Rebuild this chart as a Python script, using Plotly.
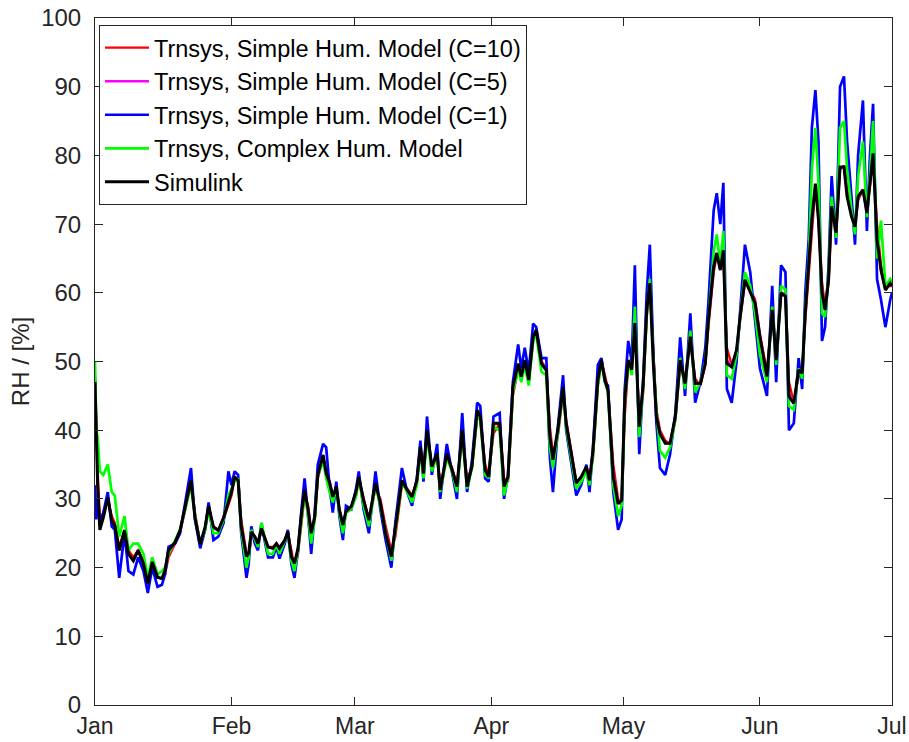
import pandas as pd
import plotly.graph_objects as go

# time in days since 1 Jan
days = [0.0, 0.3, 0.6, 1.1, 1.9, 2.9, 3.8, 4.5, 5.5, 6.7, 7.6, 8.7, 9.8, 11.0, 12.0, 13.0, 14.2, 15.2, 15.9, 16.7,
        18.2, 19.3, 20.5, 21.8, 22.7, 23.9, 25.0, 25.8, 26.9, 28.0, 29.2, 30.3, 31.0, 31.7, 32.5, 33.2, 34.4, 34.9, 35.5, 36.3,
        37.0, 37.8, 38.5, 39.3, 40.4, 41.2, 41.9, 43.1, 43.8, 44.6, 45.3, 46.1, 46.9, 47.6, 48.4, 49.1, 49.9, 50.6, 51.8, 52.5,
        53.3, 54.0, 54.8, 55.5, 56.3, 57.0, 58.2, 59.3, 59.9, 61.0, 62.2, 63.7, 64.8, 66.0, 67.3, 68.2, 69.7, 70.9, 72.0, 73.1,
        73.9, 74.6, 75.4, 76.5, 77.7, 78.4, 79.9, 81.1, 82.2, 83.4, 84.5, 85.6, 86.8, 87.5, 88.6, 89.4, 90.5, 91.9, 92.9, 93.8,
        94.9, 96.1, 96.8, 97.6, 98.5, 99.5, 100.2, 101.4, 102.5, 103.3, 104.0, 105.2, 106.3, 107.0, 108.2, 109.3, 110.4, 111.6, 112.3, 113.1,
        114.2, 115.0, 115.8, 116.5, 117.7, 118.8, 119.6, 120.3, 121.1, 121.9, 122.6, 123.6, 124.5, 125.3, 126.0, 126.8, 127.5, 128.3, 129.5, 130.6,
        131.8, 132.9, 134.0, 135.2, 136.3, 137.5, 138.6, 139.3, 140.5, 141.2, 142.0, 142.7, 143.5, 144.6, 145.7, 146.5, 147.6, 148.8, 149.9, 151.0,
        152.6, 153.8, 154.7, 155.8, 156.8, 157.6, 158.7, 159.8, 160.6, 161.3, 162.1, 162.8, 163.6, 164.3, 165.1, 165.8, 166.6, 167.3, 168.3, 169.2,
        170.1, 170.8, 171.8, 172.6, 173.3, 174.4, 175.3, 176.0, 176.7, 177.6, 178.5, 179.5, 180.6, 181.0]

simulink = [47, 38, 32, 25.5, 27.3, 30.2, 26.9, 26.1, 22.5, 25.4, 22.0, 21.0, 22.5, 20.6, 17.7, 20.8, 18.6, 18.4, 19.6, 22.5,
            23.7, 25.4, 28.8, 32.7, 27.3, 23.4, 25.9, 29.0, 25.9, 25.4, 27.3, 29.5, 31.0, 33.2, 32.7, 26.0, 21.6, 22.1, 25.2, 24.5,
            23.5, 25.7, 24.5, 23.0, 22.8, 23.5, 22.8, 24.0, 25.2, 21.6, 20.6, 22.8, 27.9, 31.3, 28.4, 25.0, 27.4, 33.5, 36.4, 33.7,
            32.3, 30.3, 31.8, 28.4, 26.2, 28.2, 28.9, 31.1, 33.2, 29.8, 26.9, 32.3, 29.4, 25.0, 21.6, 26.0, 32.7, 31.3, 30.3, 32.7,
            37.6, 33.7, 40.0, 34.7, 36.6, 31.3, 36.6, 34.2, 31.8, 40.0, 31.8, 34.7, 42.9, 42.0, 34.2, 33.2, 41.0, 41.0, 31.8, 33.2,
            46.3, 49.7, 47.8, 50.2, 47.3, 53.6, 54.6, 49.7, 48.7, 39.1, 35.7, 40.5, 46.3, 41.0, 36.6, 32.3, 33.2, 34.7, 32.7, 37.1,
            47.3, 50.2, 47.3, 45.8, 33.2, 29.3, 29.8, 44.4, 50.2, 48.8, 55.6, 40.5, 46.8, 57.5, 61.4, 49.7, 42.0, 39.5, 38.1, 38.1,
            42.0, 50.2, 46.8, 53.6, 46.8, 46.8, 49.7, 56.0, 63.8, 65.8, 63.3, 66.2, 49.7, 49.2, 51.7, 56.5, 61.9, 60.0, 58.5, 53.6,
            47.8, 57.5, 50.2, 60.0, 59.5, 44.9, 43.9, 48.8, 48.3, 57.0, 63.8, 70.6, 75.9, 70.6, 60.0, 57.5, 61.9, 72.6, 68.7, 78.3,
            78.3, 74.0, 71.1, 69.6, 74.0, 75.0, 71.6, 75.9, 80.3, 67.7, 63.3, 60.4, 61.4, 61.0]

simple_c1 = [32, 27, 30, 26.5, 28, 31, 26, 25.5, 18.5, 25, 19.5, 19, 21.5, 19.5, 16.3, 20, 17.2, 17.5, 19, 23,
             23.5, 25, 29.5, 34.5, 27, 22.8, 25.5, 29.5, 24, 24.5, 26.5, 34, 32, 34, 33.5, 25, 18.5, 20.5, 26, 23.5,
             22.5, 26.5, 24, 21.5, 21.5, 23, 21.3, 23.5, 25.5, 20.5, 18.5, 22.5, 28.5, 33, 27.5, 22, 28, 35, 38, 37.5,
             31.5, 28, 32.5, 27.5, 24, 29, 28.5, 31.5, 34, 28.5, 25, 34, 28.5, 24, 20, 26.5, 34.5, 31, 29, 33,
             38.5, 32.5, 42, 33.5, 38, 30, 38, 33.5, 30, 42.5, 31, 35.5, 44, 43.5, 33, 32.5, 42, 42.5, 30, 33.5,
             47, 52.5, 49, 52, 48.5, 55.5, 55, 50.5, 50.5, 36, 31, 41, 48, 40, 35, 30.5, 32, 35, 31, 37.5,
             49.5, 50.5, 47, 46.5, 31, 25.5, 27, 46, 53, 50, 64, 36.5, 47.5, 60, 67, 51, 41, 34.5, 33.5, 36.5,
             42.5, 53.5, 45, 57, 44, 47, 52, 58.5, 72, 74.5, 70, 76, 46, 44, 50, 57.5, 67, 63, 56, 49,
             45, 61, 47, 64, 63, 40, 41, 50.5, 46, 60, 68, 84, 89.5, 82, 53, 55, 64, 77, 67, 90,
             91.5, 82, 74, 67, 80, 88, 69, 80, 87.5, 62, 59, 55, 59, 60]

complex_model = [50, 40, 39, 34, 33.5, 35, 31, 30.5, 24.5, 27.5, 22.5, 23.5, 23.5, 22, 18.5, 21.5, 19, 19.5, 20, 22,
                 24, 25.5, 28.5, 32, 27.5, 23.5, 25.5, 28.5, 25, 25, 27, 30.5, 31.5, 32.5, 33, 25.5, 20, 21.5, 25.5, 24,
                 23, 26.5, 24.5, 22, 22, 23.5, 22, 24, 25, 21, 19.5, 22.5, 27.5, 31, 27.5, 23.5, 27, 33.5, 35.5, 33,
                 31, 29.5, 31.5, 28, 25, 28, 28.5, 30.5, 33, 29, 26, 32, 29, 25, 21, 25.5, 32.5, 31, 29.5, 32,
                 37, 33, 39, 34, 36.5, 31, 36, 34, 31, 39.5, 31.5, 34.5, 42, 41.5, 33.5, 33, 40.5, 40, 30.5, 33,
                 45.5, 49, 47, 49.5, 46.5, 53, 54, 48.5, 48, 37.5, 34.5, 40, 46, 40.5, 36, 31.5, 32.5, 34, 32, 36.5,
                 46.5, 50, 47, 45.5, 32, 27.5, 29, 44, 50, 48, 58, 39, 46.5, 57, 62, 50, 43, 37, 36, 37.5,
                 41.5, 50.5, 46, 54.5, 45.5, 47, 50, 56, 66, 68.5, 64, 69, 48, 47.5, 51, 56.5, 63, 61, 57, 51,
                 47, 58, 49.5, 61, 60.5, 43.5, 43, 49, 47.5, 57.5, 65, 78, 84, 76, 57, 56.5, 62.5, 74, 68, 84,
                 85, 78, 72, 68.5, 77, 82, 71, 77, 85, 65, 70.5, 61, 62, 61.5]

simple_c10 = [48, 40, 34, 27, 28, 30, 27.5, 26.5, 23, 25.5, 22.5, 21.5, 22.5, 21, 17.5, 20.5, 18.5, 18.5, 19, 21.5,
              23.5, 25, 28.5, 32.5, 28, 23.5, 25.5, 28.5, 26, 25.5, 27, 29, 30.5, 33, 33, 27, 22, 21.5, 24.5, 24.5,
              23.5, 25.5, 24.5, 23, 23, 23.5, 23, 24, 25, 22.5, 20, 22, 27, 30.5, 29, 25.5, 27, 33, 36, 34,
              32.5, 30.5, 31.5, 28.5, 26.5, 28, 28.5, 30.5, 33, 30, 27, 31.5, 30, 26, 22.5, 24.5, 32, 31.5, 30.5, 32.5,
              37, 34.5, 39.5, 35, 36, 32, 36, 34.5, 32, 39, 33, 34.5, 42, 42, 35, 33.5, 39.5, 41, 33, 32.5,
              45, 49, 48, 50, 47.5, 53, 54.5, 50, 49, 40.5, 36.5, 39.5, 45.5, 41.5, 37, 32.5, 33, 34.5, 33, 36,
              46.5, 50, 48, 46, 35, 30, 29, 42, 49.5, 49, 55, 42, 45.5, 56.5, 61, 51, 43, 40, 38.5, 38,
              41.5, 49.5, 47.5, 53, 47.5, 46.5, 49.5, 55, 63, 65.5, 64, 66, 52, 49.5, 51.5, 56, 61.5, 60.5, 59, 54,
              48.5, 56.5, 51, 59.5, 60, 47, 44, 48, 48.5, 56, 63, 70, 75.5, 71.5, 61.5, 58, 61.5, 72, 69.5, 78,
              78.5, 75, 71.5, 70, 73.5, 75, 72.5, 75.5, 80, 70, 64, 61, 61, 61]

simple_c5 = [47.5, 38, 32.5, 26, 27.5, 30.2, 27, 26.2, 22.5, 25.4, 22.0, 21, 22.5, 20.6, 17.6, 20.7, 18.6, 18.4, 19.4, 22,
             23.6, 25.3, 28.7, 32.6, 27.5, 23.4, 25.8, 29, 25.9, 25.4, 27.3, 29.4, 31, 33.1, 32.8, 26.2, 21.7, 22, 25, 24.5,
             23.5, 25.6, 24.5, 23, 22.8, 23.5, 22.8, 24, 25.2, 21.8, 20.4, 22.6, 27.7, 31.2, 28.5, 25, 27.3, 33.4, 36.3, 33.8,
             32.3, 30.3, 31.7, 28.4, 26.2, 28.1, 28.8, 31, 33.1, 29.8, 26.9, 32.2, 29.5, 25.2, 21.8, 25.8, 32.6, 31.3, 30.3, 32.6,
             37.5, 33.8, 40, 34.7, 36.5, 31.4, 36.5, 34.2, 31.8, 39.8, 32, 34.7, 42.8, 42, 34.3, 33.2, 40.8, 41, 32, 33.1,
             46, 49.6, 47.8, 50.2, 47.3, 53.5, 54.6, 49.8, 48.8, 39.4, 35.9, 40.3, 46.2, 41, 36.6, 32.3, 33.1, 34.7, 32.8, 36.9,
             47.2, 50.2, 47.4, 45.8, 33.5, 29.4, 29.7, 44, 50.1, 48.8, 55.6, 40.8, 46.6, 57.4, 61.3, 49.9, 42.2, 39.6, 38.1, 38.1,
             42, 50.1, 46.9, 53.5, 46.9, 46.8, 49.7, 55.8, 63.6, 65.7, 63.4, 66.1, 50.2, 49.2, 51.6, 56.4, 61.8, 60.1, 58.6, 53.7,
             47.9, 57.3, 50.3, 59.9, 59.6, 45.3, 43.9, 48.7, 48.3, 56.8, 63.7, 70.5, 75.8, 70.8, 60.2, 57.6, 61.8, 72.5, 68.8, 78.2,
             78.3, 74.2, 71.1, 69.6, 73.9, 75, 71.7, 75.8, 80.2, 68, 63.4, 60.5, 61.3, 61]

month_ticks = ["2021-01-01", "2021-02-01", "2021-03-01", "2021-04-01", "2021-05-01", "2021-06-01", "2021-07-01"]
month_labels = ["Jan", "Feb", "Mar", "Apr", "May", "Jun", "Jul"]
y_ticks = [0, 10, 20, 30, 40, 50, 60, 70, 80, 90, 100]

for s in (simulink, simple_c1, complex_model, simple_c10, simple_c5):
    assert len(s) == len(days), len(s)

t = pd.Timestamp("2021-01-01") + pd.to_timedelta(days, unit="D")

series = [
    ("Trnsys, Simple Hum. Model (C=10)", simple_c10, "#ff0000", 2.4),
    ("Trnsys, Simple Hum. Model (C=5)", simple_c5, "#ff00ff", 2.4),
    ("Trnsys, Simple Hum. Model (C=1)", simple_c1, "#0000ff", 2.7),
    ("Trnsys, Complex Hum. Model", complex_model, "#00ff00", 2.7),
    ("Simulink", simulink, "#000000", 3.0),
]

fig = go.Figure()
for name, vals, col, w in series:
    fig.add_trace(go.Scatter(x=t, y=vals, mode="lines", name=name,
                             line=dict(color=col, width=w)))

font = "Arial, Liberation Sans, sans-serif"
axcol = "#262626"
fs = 24
fig.update_layout(
    width=909, height=742,
    margin=dict(l=95, r=17, t=18, b=37),
    paper_bgcolor="white", plot_bgcolor="white",
    font=dict(family=font, size=fs, color=axcol),
    showlegend=True,
    legend=dict(x=0.005, y=0.99, xanchor="left", yanchor="top",
                bgcolor="white", bordercolor=axcol, borderwidth=1,
                font=dict(family=font, size=23.5, color="black"),
                tracegroupgap=0, itemwidth=44),
)
fig.update_xaxes(
    range=[month_ticks[0], month_ticks[-1]],
    tickvals=month_ticks, ticktext=month_labels,
    ticks="inside", ticklen=8, tickwidth=1, tickcolor=axcol,
    showline=True, linecolor=axcol, linewidth=1, mirror="ticks",
    showgrid=False, zeroline=False, ticklabelstandoff=0, automargin=False,
    tickfont=dict(family=font, size=23, color=axcol),
)
fig.update_yaxes(
    range=[0, 100], tickvals=y_ticks,
    ticks="inside", ticklen=8, tickwidth=1, tickcolor=axcol,
    showline=True, linecolor=axcol, linewidth=1, mirror="ticks",
    showgrid=False, zeroline=False, ticklabelstandoff=8, automargin=False,
    tickfont=dict(family=font, size=fs, color=axcol),
    title=dict(text="RH / [%]", standoff=4, font=dict(family=font, size=fs, color=axcol)),
)

fig.write_html("out.html")
